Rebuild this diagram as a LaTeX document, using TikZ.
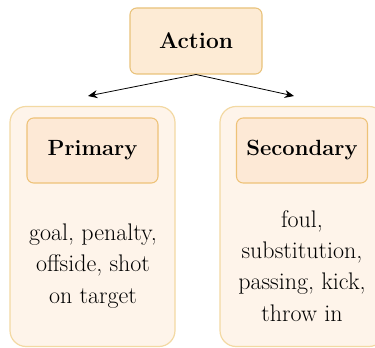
\documentclass[tikz,border=0pt]{standalone}
\usepackage{tikz}
\usetikzlibrary{positioning}
\usetikzlibrary{arrows.meta}
\usepackage{xcolor}
\definecolor{actfill}{HTML}{FDEBD5}
\definecolor{actline}{HTML}{E9C27A}
\definecolor{outfill}{HTML}{FEF4EA}
\definecolor{outline}{HTML}{F3D9A3}
\definecolor{infill}{HTML}{FDE9D6}
\definecolor{inline}{HTML}{EEC277}

\begin{document}
\begin{tikzpicture}[
  x=0.75pt, y=-0.75pt,
  group/.style={draw=outline, fill=outfill, rounded corners=12pt, minimum width=123.75pt, minimum height=180pt, line width=0.9pt},
  title/.style={draw=inline, fill=infill, rounded corners=5pt, minimum width=98.25pt, minimum height=48.75pt, line width=0.8pt, font=\fontsize{16.5}{20}\selectfont\bfseries},
  action/.style={draw=actline, fill=actfill, rounded corners=5pt, minimum width=99pt, minimum height=49.5pt, line width=0.8pt, font=\fontsize{17}{20}\selectfont\bfseries},
  items/.style={align=center, font=\fontsize{18}{23.5}\selectfont},
  arrow/.style={-{Stealth[length=7pt,width=6pt]}, semithick}
]
\useasboundingbox (0,0) rectangle (375,348);
\node[action] (act) at (196,41) {Action};
\node[group] (gprim) at (92.5,226.5) {};
\node[group] (gsec) at (302.5,226.5) {};
\node[title] (prim) at (92.5,150.5) {Primary};
\node[title] (sec) at (302,150.5) {Secondary};
\node[items] (lprim) at (93,266) {goal, penalty,\\offside, shot\\on target};
\node[items] (lsec) at (302,266) {foul,\\substitution,\\passing, kick,\\throw in};

\coordinate (tprim) at (88,96);
\coordinate (tsec) at (294,96);
\draw[arrow] (act.south) -- (tprim);
\draw[arrow] (act.south) -- (tsec);

\end{tikzpicture}
\end{document}
